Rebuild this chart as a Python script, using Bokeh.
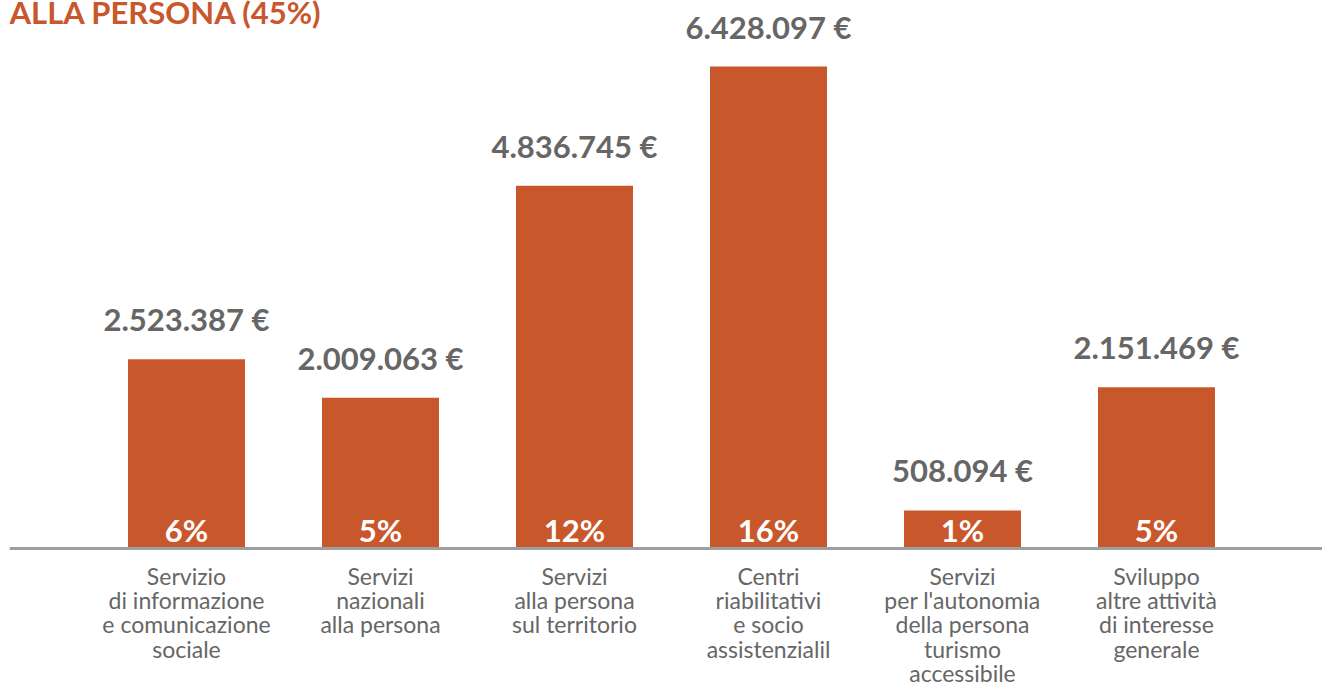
from bokeh.plotting import figure
from bokeh.models import ColumnDataSource, Range1d, Span, Label
from bokeh.core.properties import value
from bokeh.embed import file_html
from bokeh.resources import INLINE

title_text = "ALLA PERSONA (45%)"
categories = [
    "Servizio\ndi informazione\ne comunicazione\nsociale",
    "Servizi\nnazionali\nalla persona",
    "Servizi\nalla persona\nsul territorio",
    "Centri\nriabilitativi\ne socio\nassistenzialil",
    "Servizi\nper l'autonomia\ndella persona\nturismo\naccessibile",
    "Sviluppo\naltre attività\ndi interesse\ngenerale",
]
values = [2523387, 2009063, 4836745, 6428097, 508094, 2151469]
value_labels = ["2.523.387 €", "2.009.063 €", "4.836.745 €", "6.428.097 €", "508.094 €", "2.151.469 €"]
percent_labels = ["6%", "5%", "12%", "16%", "1%", "5%"]

BAR = "#C8572B"
GREY = "#666666"
FONT = "Lato"

W, H = 1322, 682
LEFT = 9
px_per_unit = 482 / 6428097.0
baseline_px = 548
y_top = baseline_px / px_per_unit
y_bot = -(H - baseline_px) / px_per_unit

p = figure(width=W, height=H, output_backend="svg", toolbar_location=None,
           x_range=Range1d((LEFT - 186) / 194.0, (W - 186) / 194.0),
           y_range=Range1d(y_bot, y_top),
           min_border_left=LEFT, min_border_right=0, min_border_top=0, min_border_bottom=0)
p.xaxis.visible = False
p.yaxis.visible = False
p.xgrid.visible = False
p.ygrid.visible = False
p.outline_line_color = None
p.background_fill_color = "white"
p.border_fill_color = "white"

idx = list(range(len(categories)))
src = ColumnDataSource(dict(x=idx, top=values, cat=categories, vl=value_labels, pl=percent_labels))

p.vbar(x="x", top="top", bottom=0, width=0.603, source=src, fill_color=BAR, line_color=None)

p.add_layout(Span(location=0, dimension="width", line_color="#9E9E9E", line_width=3))

p.text(x="x", y="top", text="vl", source=src, text_align="center", text_baseline="alphabetic",
       y_offset=-40, text_font=value(FONT), text_font_style="bold", text_font_size="31px",
       text_color=GREY)

p.text(x="x", y=0, text="pl", source=src, text_align="center", text_baseline="alphabetic",
       y_offset=-19, text_font=value(FONT), text_font_style="bold", text_font_size="31px",
       text_color="white")

p.text(x="x", y=0, text="cat", source=src, text_align="center", text_baseline="top",
       y_offset=13, text_font=value(FONT), text_font_size="23px", text_color=GREY,
       text_line_height=0.87)

p.add_layout(Label(x=0, y=H - 11, x_units="screen", y_units="screen", text=title_text,
                   text_font=FONT, text_font_style="bold", text_font_size="31px",
                   text_color=BAR, text_baseline="alphabetic"))

open("out.html", "w").write(file_html(p, INLINE))
